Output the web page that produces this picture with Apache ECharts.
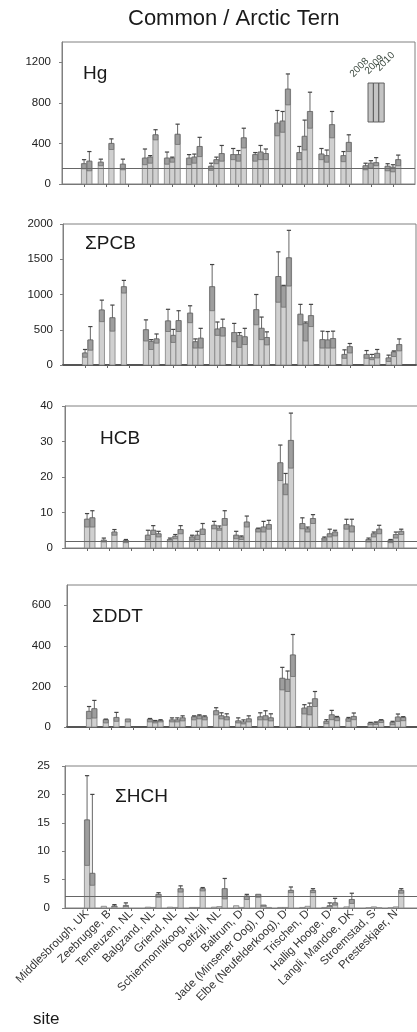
<!DOCTYPE html>
<html><head><meta charset="utf-8">
<script src="https://cdn.jsdelivr.net/npm/echarts@6/dist/echarts.min.js"></script>
<style>html,body{margin:0;padding:0;background:#fff}#c{width:417px;height:1032px}</style>
</head><body><div id="c"></div>
<script>
// ---------- DATA ----------
const sites = ["Middlesbrough, UK","Zeebrugge, B","Terneuzen, NL","Balgzand, NL","Griend, NL","Schiermonnikoog, NL","Delfzijl, NL","Baltrum, D","Jade (Minsener Oog), D","Elbe (Neufelderkoog), D","Trischen, D","Hallig Hooge, D","Langli, Mandoe, DK","Stroemstad, S","Presteskjaer, N"];
const years = ["2008","2009","2010"];
// each entry: [value, lower box edge, upper whisker]
const hg2008 = [null,[215,180,245],[195,140,245],[255,190,345],[255,195,315],[255,190,290],[175,135,205],[290,240,350],[290,225,310],[600,475,725],[310,240,370],[295,240,350],[280,220,320],[180,140,205],[175,130,200]];
const hg2009 = [[200,150,240],null,null,[265,205,280],[255,215,265],[265,205,295],[240,200,265],[290,225,330],[315,240,380],[620,510,715],[470,335,630],[280,215,335],[410,320,485],[205,155,230],[165,120,190]];
const hg2010 = [[225,130,320],[400,340,445],null,[485,435,535],[490,390,590],[370,270,460],[300,225,380],[455,355,550],[300,240,345],[935,780,1085],[715,550,905],[585,455,715],null,[210,180,260],[240,180,285]];
const pcb2008 = [null,[780,615,920],[1110,1020,1200],[500,340,640],[625,475,790],[735,600,840],[1110,770,1425],[460,330,590],[785,570,1000],[1255,890,1605],[720,570,860],[360,240,480],[150,95,215],[150,95,205],[100,50,140]];
const pcb2009 = [[170,110,220],null,null,[335,220,360],[420,320,505],[330,240,370],[510,420,610],[420,250,460],[520,360,680],[1120,820,1130],[590,340,610],[355,240,475],[260,170,305],[105,75,150],[185,120,200]];
const pcb2010 = [[355,210,545],[670,480,850],null,[370,310,440],[630,475,770],[380,240,520],[530,410,650],[400,290,520],[390,285,470],[1520,1120,1910],[700,545,860],[375,240,480],null,[165,100,220],[290,200,370]];
const hcb2008 = [null,[2.2,1.7,2.8],[2.1,1.5,2.4],[3.6,2.3,5.0],[2.4,1.8,2.8],[3.1,2.2,3.6],[6.4,5.4,7.5],[3.6,2.6,4.7],[5.4,4.5,5.6],[24,19,29],[6.9,5.4,8.5],[2.8,2.2,3.1],[6.6,5.3,8.1],[2.4,1.7,2.8],[2.2,1.5,2.4]];
const hcb2009 = [[8.1,5.9,9.7],null,null,[5.0,3.8,6.3],[3.3,2.6,3.8],[3.6,2.4,4.7],[5.6,5.0,6.2],[3.1,2.4,3.4],[5.9,4.5,7.5],[18,15,21],[5.4,4.5,5.9],[4.0,3.1,5.3],[6.2,4.5,8.1],[4.0,3.1,4.5],[3.8,2.8,4.5]];
const hcb2010 = [[8.5,5.9,10.5],[4.5,3.6,5.2],null,[4.0,3.1,4.7],[5.2,4.0,6.3],[5.3,3.8,6.9],[8.3,6.4,10.5],[7.3,5.9,9.0],[6.6,5.3,7.8],[30.3,22.5,38],[8.3,6.9,9.4],[4.5,3.4,5.0],null,[5.3,4.0,6.4],[4.7,3.8,5.3]];
const ddt2008 = [null,[36,20,39],[39,25,41],[38,25,42],[35,25,45],[50,35,55],[80,60,95],[30,20,45],[50,35,70],[240,183,294],[93,64,110],[28,16,36],[41,28,47],[20,11,23],[23,11,28]];
const ddt2009 = [[77,41,101],null,null,[28,20,32],[35,25,45],[55,40,60],[55,40,70],[25,15,35],[55,35,80],[235,175,276],[101,60,118],[60,36,82],[52,36,69],[20,12,25],[49,28,64]];
const ddt2010 = [[90,44,131],[47,28,72],null,[32,25,36],[45,30,55],[50,35,55],[50,35,65],[40,25,55],[45,30,65],[355,249,456],[139,101,175],[47,31,52],null,[33,22,36],[47,31,51]];
const hch2008 = [null,[0.3,0.2,0.35],[0.45,0.25,0.9],[0.15,0.1,0.2],[0.15,0.1,0.2],[0.1,0.05,0.15],[0.15,0.1,0.2],[0.4,0.3,0.5],[2.4,1.9,2.5],[0.1,0.05,0.15],[0.1,0.05,0.15],[0.1,0.05,0.15],[0.2,0.1,0.25],[0.05,0.02,0.08],[0.05,0.02,0.08]];
const hch2009 = [[15.5,7.5,23.3],null,null,[0.1,0.05,0.15],[0.1,0.05,0.15],[0.1,0.05,0.15],[0.25,0.15,0.3],[0.1,0.05,0.15],[0.5,0.3,0.6],[0.1,0.05,0.15],[0.3,0.2,0.4],[0.4,0.2,0.9],[1.5,0.8,2.6],[0.2,0.1,0.25],[0.2,0.1,0.25]];
const hch2010 = [[6.1,4.0,20.0],[0.35,0.2,0.6],null,[2.4,1.9,2.7],[3.4,2.8,3.9],[3.4,3.0,3.6],[3.4,1.6,5.2],[2.1,1.5,2.4],[0.1,0.05,0.15],[3.1,2.7,3.7],[3.1,2.7,3.4],[0.9,0.5,1.7],null,[0.05,0.02,0.08],[3.1,2.6,3.4]];
// y tick labels and axis maxima
const hgTicks = [0,400,800,1200];
const pcbTicks = [0,500,1000,1500,2000];
const hcbTicks = [0,10,20,30,40];
const ddtTicks = [0,200,400,600];
const hchTicks = [0,5,10,15,20,25];
const yMax = [1400,2000,40,700,25];
// reference (threshold) lines
const refLines = [155,null,2,null,2];
const panelNames = ["Hg","ΣPCB","HCB","ΣDDT","ΣHCH"];

// ---------- LAYOUT ----------
const FONT = "'Liberation Sans', Arial, Helvetica, sans-serif";
const SLOT = 0.24;
const layout = [
  {left:62, top:42,  height:142, lblMargin:11, nameX:83,  nameY:75},
  {left:63, top:224, height:141, lblMargin:10, nameX:85,  nameY:245},
  {left:65, top:406, height:142, lblMargin:12, nameX:100, nameY:440},
  {left:67, top:585, height:142, lblMargin:16, nameX:92,  nameY:618},
  {left:65, top:766, height:142, lblMargin:15, nameX:115, nameY:798}
];
const panelData = [[hg2008,hg2009,hg2010],[pcb2008,pcb2009,pcb2010],[hcb2008,hcb2009,hcb2010],[ddt2008,ddt2009,ddt2010],[hch2008,hch2009,hch2010]];
const panelTicks = [hgTicks,pcbTicks,hcbTicks,ddtTicks,hchTicks];
const siteIdx = sites.map((s,i)=>i);

const grids=[], xAxes=[], yAxes=[], series=[], graphics=[];
layout.forEach((L,p)=>{
  grids.push({left:L.left, top:L.top, width:353, height:L.height, show:true, borderColor:'#808080', borderWidth:1, backgroundColor:'transparent', outerBoundsMode:'none', containLabel:false});
  const thick = (p===1||p===3);
  xAxes.push({type:'value', gridIndex:p, min:-1, max:15,
    axisLine:{show:true, onZero:false, lineStyle:{color:thick?'#555':'#777', width:thick?2:1}},
    axisTick:{show:true, customValues:siteIdx, length:3, inside:false, lineStyle:{color:'#666'}},
    axisLabel:{show:p===4, customValues:siteIdx, rotate:45, margin:4, fontSize:11.5, color:'#333', fontFamily:FONT, formatter:v=>sites[Math.round(v)]||''},
    splitLine:{show:false}});
  yAxes.push({type:'value', gridIndex:p, min:0, max:yMax[p], position:'left',
    axisLine:{show:true, onZero:false, lineStyle:{color:'#808080'}},
    axisTick:{show:true, customValues:panelTicks[p], length:3, lineStyle:{color:'#808080'}},
    axisLabel:{show:true, customValues:panelTicks[p], margin:L.lblMargin, fontSize:11.5, color:'#222', fontFamily:FONT, formatter:v=>String(v)},
    splitLine:{show:false}});
  panelData[p].forEach((arr,yi)=>{
    const data=[];
    arr.forEach((d,i)=>{ if(d) data.push([i,d[0],d[1],d[2]]); });
    const off=(yi-1)*SLOT;
    const s = {type:'custom', name:years[yi], xAxisIndex:p, yAxisIndex:p, data:data,
      encode:{x:0, y:[1,2,3]}, silent:true, animation:false,
      renderItem:function(params, api){
        const x=api.value(0)+off, v=api.value(1), lo=api.value(2), hi=api.value(3);
        const w=api.size([SLOT,0])[0];
        const b=api.coord([x,0]), t=api.coord([x,v]), l=api.coord([x,lo]), h=api.coord([x,hi]);
        const cx=t[0], x0=cx-w/2;
        const ch=[];
        ch.push({type:'rect', shape:{x:x0,y:t[1],width:w,height:Math.max(b[1]-t[1],0.6)}, style:{fill:'#d0d0d0', stroke:'#828282', lineWidth:0.8}});
        if(l[1]-t[1]>0.6) ch.push({type:'rect', shape:{x:x0+0.3,y:t[1],width:w-0.6,height:l[1]-t[1]}, style:{fill:'#9e9e9e', stroke:'#666', lineWidth:0.7}});
        if(t[1]-h[1]>0.6){
          ch.push({type:'line', shape:{x1:cx,y1:t[1],x2:cx,y2:h[1]}, style:{stroke:'#555', lineWidth:0.9}});
          ch.push({type:'line', shape:{x1:cx-w*0.4,y1:h[1],x2:cx+w*0.4,y2:h[1]}, style:{stroke:'#444', lineWidth:1.2}});
        }
        return {type:'group', children:ch};
      }};
    if(yi===2 && refLines[p]!=null){
      s.markLine={silent:true, symbol:'none', animation:false, label:{show:false},
        lineStyle:{color:'#666', width:1, type:'solid'}, data:[{yAxis:refLines[p]}]};
    }
    series.push(s);
  });
  graphics.push({type:'text', left:L.nameX, top:L.nameY-11, style:{text:panelNames[p], font:"19px "+FONT, fill:'#1a1a1a'}, z:100});
});

graphics.push({type:'text', left:128, top:8, style:{text:'Common / Arctic Tern', font:"22px "+FONT, fill:'#1a1a1a'}});
graphics.push({type:'text', left:33, top:1011, style:{text:'site', font:"17px "+FONT, fill:'#1a1a1a'}});
// legend box (2008 | 2009 | 2010)
years.forEach((yr,k)=>{
  graphics.push({type:'rect', shape:{x:368+k*5.4, y:83, width:5.4, height:39}, style:{fill:'#c4c4c4', stroke:'#555', lineWidth:0.9}, z:100});
  graphics.push({type:'text', x:[355,370,381][k], y:[79,76,73][k], rotation:Math.PI/4, style:{text:yr, font:"10px "+FONT, fill:'#3d4a40', textAlign:'left', textVerticalAlign:'bottom'}, z:100});
});

const chart = echarts.init(document.getElementById('c'), null, {renderer:'canvas'});
chart.setOption({animation:false, backgroundColor:'#fff', grid:grids, xAxis:xAxes, yAxis:yAxes, series:series, graphic:graphics});
</script></body></html>
